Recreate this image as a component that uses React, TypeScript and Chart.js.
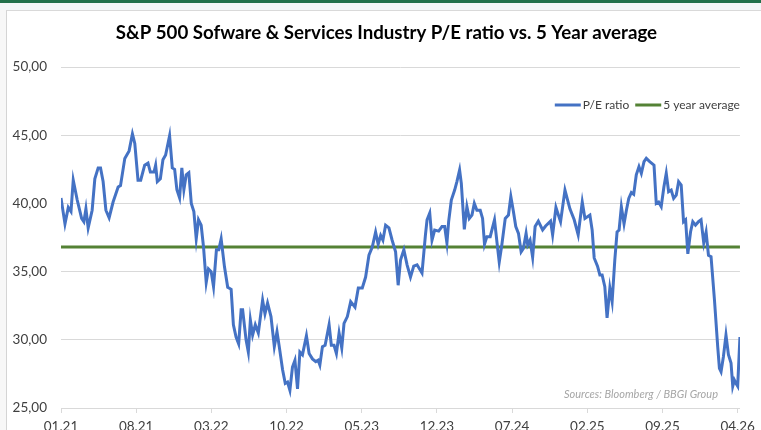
import React, { useEffect, useRef } from "react";
import { Chart, registerables } from "chart.js";

Chart.register(...registerables);

const chartTitle = "S&P 500 Sofware & Services Industry P/E ratio vs. 5 Year average";
const sourceText = "Sources: Bloomberg / BBGI Group";
const seriesNames = ["P/E ratio", "5 year average"];

// x tick labels, one every 7 months starting 01.21
const tickLabels = ["01.21", "08.21", "03.22", "10.22", "05.23", "12.23", "07.24", "02.25", "09.25", "04.26"];
const monthsPerTick = 7;
const lastMonth = 63.21;

const yTicks = [25, 30, 35, 40, 45, 50];

// months since Jan 2021
const peMonths = [
  0.0, 0.37, 0.68, 0.93, 1.14, 1.51, 1.92, 2.13, 2.32, 2.53, 2.9, 3.15, 3.46, 3.68, 3.92, 4.18, 4.48, 4.85,
  5.32, 5.54, 5.94, 6.34, 6.65, 6.87, 7.17, 7.42, 7.79, 8.1, 8.32, 8.66, 8.81, 8.97, 9.25, 9.49, 9.74, 10.11,
  10.36, 10.58, 10.79, 11.04, 11.25, 11.44, 11.66, 11.9, 12.13, 12.37, 12.59, 12.8, 13.05, 13.27, 13.52,
  13.73, 13.98, 14.2, 14.47, 14.69, 14.91, 15.22, 15.52, 15.84, 16.05, 16.3, 16.54, 16.77, 16.91, 17.23,
  17.44, 17.63, 17.84, 18.09, 18.37, 18.77, 18.99, 19.23, 19.55, 19.86, 20.11, 20.32, 20.63, 20.88, 21.09,
  21.31, 21.55, 21.78, 22.02, 22.24, 22.48, 22.85, 23.1, 23.41, 23.72, 23.94, 24.1, 24.34, 24.59, 24.96,
  25.17, 25.42, 25.64, 25.89, 26.14, 26.35, 26.66, 26.97, 27.37, 27.68, 28.05, 28.36, 28.67, 28.98, 29.29,
  29.53, 29.76, 29.97, 30.22, 30.53, 30.83, 31.15, 31.39, 31.61, 31.92, 32.22, 32.54, 32.84, 33.15, 33.61,
  33.93, 34.08, 34.33, 34.54, 34.79, 35.16, 35.47, 35.72, 35.93, 36.09, 36.34, 36.65, 36.86, 37.11, 37.27,
  37.55, 37.79, 38.01, 38.26, 38.48, 38.72, 39.03, 39.25, 39.43, 39.65, 39.96, 40.36, 40.64, 40.8, 41.04,
  41.36, 41.66, 41.88, 42.12, 42.34, 42.59, 42.84, 43.05, 43.3, 43.45, 43.67, 43.91, 44.14, 44.44, 44.84,
  45.12, 45.58, 45.77, 46.08, 46.51, 46.92, 47.38, 47.78, 48.15, 48.53, 48.78, 49.24, 49.45, 49.64, 49.95,
  50.17, 50.38, 50.63, 50.84, 51.1, 51.31, 51.56, 51.77, 51.96, 52.17, 52.42, 52.64, 52.86, 53.1, 53.32,
  53.56, 53.81, 54.03, 54.28, 54.49, 54.81, 55.21, 55.42, 55.64, 55.88, 56.13, 56.35, 56.57, 56.81, 57.04,
  57.28, 57.5, 57.74, 57.96, 58.15, 58.36, 58.61, 58.82, 59.07, 59.35, 59.59, 59.84, 60.06, 60.28, 60.52,
  60.84, 61.14, 61.3, 61.45, 61.67, 61.91, 62.14, 62.38, 62.54, 62.69, 62.85, 63.0, 63.21,
];

const peRatio = [
  40.4, 38.5, 39.7, 39.4, 41.7, 40.25, 38.9, 38.65, 39.6, 38.2, 39.5, 41.8, 42.6, 42.6, 41.6, 39.5, 38.95, 40.1,
  41.2, 41.3, 43.3, 43.85, 45.1, 44.4, 41.7, 41.7, 42.8, 42.95, 42.3, 42.3, 42.8, 41.6, 41.8, 43.2, 43.55, 44.96,
  42.6, 42.5, 41.0, 40.4, 42.6, 41.0, 42.1, 42.25, 40.0, 39.4, 37.4, 38.8, 38.4, 36.8, 34.2,
  35.2, 35.0, 33.9, 36.6, 36.6, 37.4, 35.35, 33.85, 33.7, 31.1, 30.2, 29.7, 32.2, 32.2, 30.0,
  29.1, 31.45, 30.35, 31.1, 30.5, 32.9, 31.9, 32.7, 31.7, 29.5, 30.6, 29.5, 27.8, 26.8, 26.9,
  26.3, 28.0, 28.5, 26.4, 29.1, 28.9, 30.3, 29.0, 28.6, 28.4, 28.5, 28.15, 29.5, 29.6, 31.1,
  29.6, 29.6, 29.0, 30.5, 29.4, 31.2, 31.7, 32.8, 32.4, 33.8, 33.8, 34.6, 36.2, 36.8, 37.9,
  37.0, 37.65, 37.3, 38.4, 38.2, 37.3, 36.45, 34.0, 35.85, 36.6, 35.5, 34.6, 35.4, 35.5, 34.9,
  37.7, 38.8, 39.3, 37.3, 38.05, 37.97, 38.3, 38.3, 37.1, 38.66, 40.25, 40.98, 41.6, 42.45, 41.47,
  38.1, 39.76, 38.9, 39.15, 40.0, 39.5, 39.5, 38.9, 37.0, 37.56, 37.56, 38.8, 36.8, 35.7, 36.95,
  38.9, 39.15, 40.5, 39.4, 38.3, 37.8, 36.45, 36.7, 37.8, 36.95, 37.3, 36.05, 38.3, 38.7, 38.05,
  38.34, 38.7, 37.7, 39.7, 38.66, 40.98, 39.6, 38.8, 37.7, 40.1, 38.9, 39.15, 38.05, 36.0, 35.4,
  34.75, 34.75, 33.9, 31.6, 33.8, 32.8, 35.85, 37.9, 38.05, 39.76, 38.5, 39.5, 40.37, 40.8, 40.67,
  42.1, 42.7, 42.2, 43.06, 43.3, 43.06, 42.8, 40.0, 40.1, 39.76, 41.2, 42.2, 40.86, 40.98, 40.37,
  40.6, 41.6, 41.35, 38.66, 38.8, 36.3, 37.9, 38.66, 38.4, 38.66, 38.8, 37.1, 37.9, 36.2, 36.1,
  32.9, 29.5, 27.9, 27.66, 28.76, 30.35, 28.9, 28.3, 26.6, 27.05, 26.8, 26.6, 30.2,
];

const fiveYearAverage = 36.8;

const FONT = "Lato, 'Open Sans', sans-serif";
const BLUE = "#4472C4";
const GREEN = "#548235";

const overlayPlugin = {
  id: "overlay",
  afterDraw(chart: any) {
    const { ctx, chartArea } = chart;
    ctx.save();
    // title, centred slightly right of the canvas centre like the original
    ctx.font = `bold 18.7px ${FONT}`;
    ctx.fillStyle = "#000000";
    ctx.textAlign = "center";
    ctx.textBaseline = "middle";
    ctx.fillText(chartTitle, (chartArea.left + chartArea.right) / 2 - 14, chartArea.top - 34);

    // legend inside plot, top-right
    ctx.font = `12px ${FONT}`;
    ctx.textBaseline = "middle";
    ctx.textAlign = "left";
    const lineW = 26;
    const gapLT = 2;
    const gapItem = 6;
    const items = chart.data.datasets.map((d: any) => ({ text: d.label, color: d.borderColor }));
    let total = 0;
    items.forEach((it: any, i: number) => {
      total += lineW + gapLT + ctx.measureText(it.text).width + (i < items.length - 1 ? gapItem : 0);
    });
    let x = chartArea.right - total;
    const y = chartArea.top + 38;
    items.forEach((it: any) => {
      ctx.strokeStyle = it.color;
      ctx.lineWidth = 3;
      ctx.beginPath();
      ctx.moveTo(x, y);
      ctx.lineTo(x + lineW, y);
      ctx.stroke();
      x += lineW + gapLT;
      ctx.fillStyle = "#404040";
      ctx.fillText(it.text, x, y);
      x += ctx.measureText(it.text).width + gapItem;
    });
    // source note
    ctx.font = `italic 11px ${FONT}`;
    ctx.fillStyle = "#a6a6a6";
    ctx.textAlign = "right";
    ctx.fillText(sourceText, chartArea.right - 22, chartArea.bottom - 14);
    ctx.restore();
  },
};

export default function App() {
  const canvasRef = useRef<HTMLCanvasElement | null>(null);

  useEffect(() => {
    if (!canvasRef.current) return;
    const pePoints = peMonths.map((m, i) => ({ x: m, y: peRatio[i] }));
    const avgPoints = [
      { x: 0, y: fiveYearAverage },
      { x: lastMonth, y: fiveYearAverage },
    ];
    const chart = new Chart(canvasRef.current, {
      type: "line",
      data: {
        datasets: [
          {
            label: seriesNames[0],
            data: pePoints,
            borderColor: BLUE,
            backgroundColor: BLUE,
            borderWidth: 3,
            pointRadius: 0,
            tension: 0,
          },
          {
            label: seriesNames[1],
            data: avgPoints,
            borderColor: GREEN,
            backgroundColor: GREEN,
            borderWidth: 3,
            pointRadius: 0,
            tension: 0,
          },
        ],
      },
      options: {
        responsive: false,
        animation: false,
        layout: { padding: { left: 0, right: 19, top: 57, bottom: 12 } },
        plugins: {
          legend: { display: false },
          tooltip: { enabled: false },
          title: { display: false },
        },
        scales: {
          x: {
            type: "linear",
            min: 0,
            max: lastMonth,
            afterBuildTicks: (scale: any) => {
              scale.ticks = tickLabels.map((_, i) => ({ value: i * monthsPerTick }));
            },
            afterFit: (scale: any) => {
              scale.height = 30;
            },
            ticks: {
              autoSkip: false,
              maxRotation: 0,
              padding: 6,
              color: "#404040",
              font: { family: FONT, size: 13.5 },
              callback: (v: any) => tickLabels[Math.round(Number(v) / monthsPerTick)] ?? "",
            },
            grid: {
              drawOnChartArea: false,
              drawTicks: true,
              tickLength: 5,
              color: "#d9d9d9",
            },
            border: { display: true, color: "#d9d9d9", width: 1 },
          },
          y: {
            min: 25,
            max: 50,
            afterBuildTicks: (scale: any) => {
              scale.ticks = yTicks.map((v) => ({ value: v }));
            },
            afterFit: (scale: any) => {
              scale.width = 54;
            },
            ticks: {
              padding: 14,
              color: "#404040",
              font: { family: FONT, size: 13.5 },
              callback: (v: any) => Number(v).toFixed(2).replace(".", ","),
            },
            grid: { color: "#d9d9d9", drawTicks: false, lineWidth: 1 },
            border: { display: false },
          },
        },
      },
      plugins: [overlayPlugin],
    } as any);
    return () => chart.destroy();
  }, []);

  return (
    <div
      style={{
        position: "fixed",
        left: 0,
        top: 0,
        width: 761,
        height: 430,
        overflow: "hidden",
        background: "#f7f7f7",
      }}
    >
      <div style={{ position: "absolute", left: 0, top: 0, width: 761, height: 3, background: "#21704a" }} />
      <div style={{ position: "absolute", left: 0, top: 3, width: 761, height: 7, background: "#f3f6f7" }} />
      <div
        style={{
          position: "absolute",
          left: 6,
          top: 10,
          width: 755,
          height: 440,
          background: "#ffffff",
          borderLeft: "1px solid #d4d4d4",
          borderTop: "1px solid #d9d9d9",
          boxSizing: "border-box",
        }}
      />
      <canvas
        ref={canvasRef}
        width={754}
        height={440}
        style={{ position: "absolute", left: 7, top: 10, width: 754, height: 440 }}
      />
    </div>
  );
}
